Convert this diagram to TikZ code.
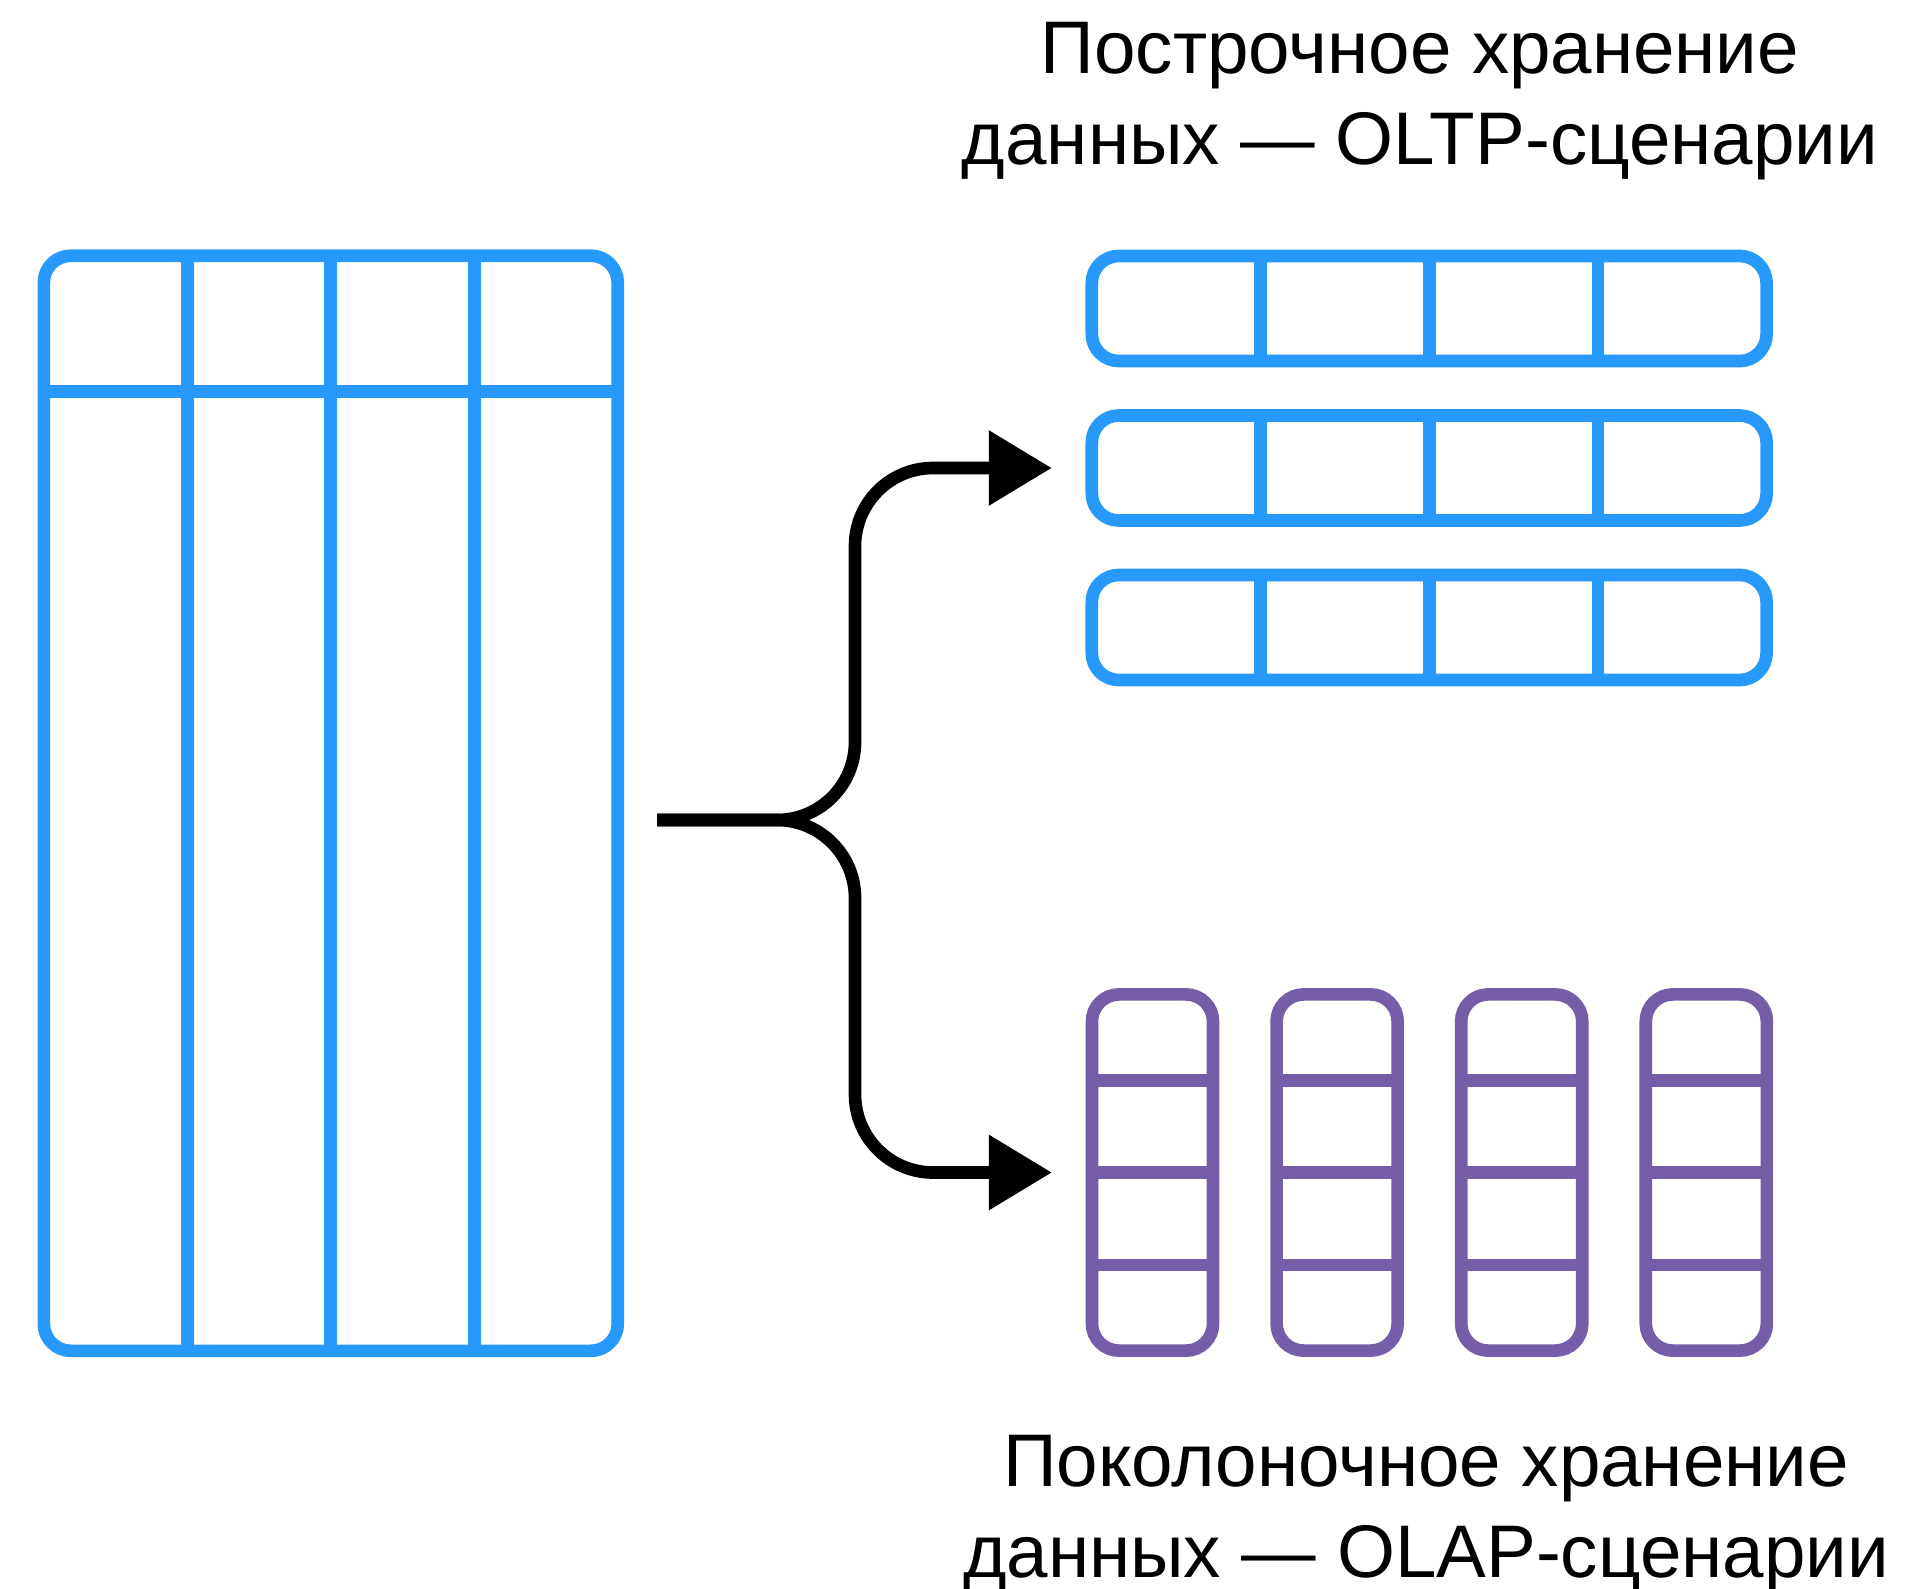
\documentclass[tikz,border=0pt]{standalone}
\usepackage{fontspec}
\setmainfont{Liberation Sans}
\usetikzlibrary{arrows.meta, positioning, calc}
\definecolor{rowblue}{RGB}{38,153,251}
\definecolor{colpurple}{RGB}{117,93,167}
\tikzset{
  %% Table outline
  tbl/.style={
    rectangle, rounded corners=0.27cm,
    draw=#1, line width=3.6pt,
    inner sep=0pt, outer sep=0pt
  },
  tbl/.default=rowblue,
  %% Cell divider
  divider/.style={draw=#1, line width=3.6pt},
  divider/.default=rowblue,
  %% Split arrow
  arr/.style={-{Triangle[length=0.63cm,width=0.72cm]},
              draw=black, line width=3.6pt, rounded corners=0.78cm},
  %% Caption
  lbl/.style={font=\fontsize{21.2}{25.7}\selectfont, align=center,
              inner sep=0pt},
}

\begin{document}
\begin{tikzpicture}[x=0.01cm, y=-0.01cm]
  \useasboundingbox (0,0) rectangle (1922,1588);

  %% Source table
  \node[tbl, minimum width=5.736cm, minimum height=10.945cm]
       (big) at (330.8,803.25) {};
  \foreach \i in {1,2,3}
    \draw[divider] ($(big.north west)!\i/4!(big.north east)$)
                -- ($(big.south west)!\i/4!(big.south east)$);
  \draw[divider] ($(big.north west)+(0,136)$) -- ($(big.north east)+(0,136)$);

  %% Row storage
  \node[tbl, minimum width=6.744cm, minimum height=1.05cm]
       (row1) at (1429.2,308.5) {};
  \node[tbl, minimum width=6.744cm, minimum height=1.05cm,
        below=0.544cm of row1] (row2) {};
  \node[tbl, minimum width=6.744cm, minimum height=1.05cm,
        below=0.544cm of row2] (row3) {};
  \foreach \r in {row1,row2,row3}
    \foreach \i in {1,2,3}
      \draw[divider] ($(\r.north west)!\i/4!(\r.north east)$)
                  -- ($(\r.south west)!\i/4!(\r.south east)$);

  %% Column storage
  \node[tbl=colpurple, minimum width=1.21cm, minimum height=3.56cm]
       (col1) at (1152.5,1172.5) {};
  \node[tbl=colpurple, minimum width=1.21cm, minimum height=3.56cm,
        right=0.635cm of col1] (col2) {};
  \node[tbl=colpurple, minimum width=1.21cm, minimum height=3.56cm,
        right=0.635cm of col2] (col3) {};
  \node[tbl=colpurple, minimum width=1.21cm, minimum height=3.56cm,
        right=0.635cm of col3] (col4) {};
  \foreach \c in {col1,col2,col3,col4}
    \foreach \d in {86,178,270.5}
      \draw[divider=colpurple] ($(\c.north west)+(0,\d)$)
                            -- ($(\c.north east)+(0,\d)$);

  %% Captions
  \node[lbl, anchor=base] (rowcap) at (1420,164)
       {Построчное хранение\\данных — OLTP-сценарии};
  \node[lbl, anchor=base] (colcap) at (1426,1577)
       {Поколоночное хранение\\данных — OLAP-сценарии};

  %% Arrows
  \coordinate (src)   at (657,820);
  \coordinate (bend)  at (855,820);
  \coordinate (rowin) at ($(row2.west)+(-40,0)$);
  \coordinate (colin) at ($(col1.west)+(-40,0)$);
  \draw[arr] (src) -- (bend) |- (rowin);
  \draw[arr] (src) -- (bend) |- (colin);

\end{tikzpicture}
\end{document}
